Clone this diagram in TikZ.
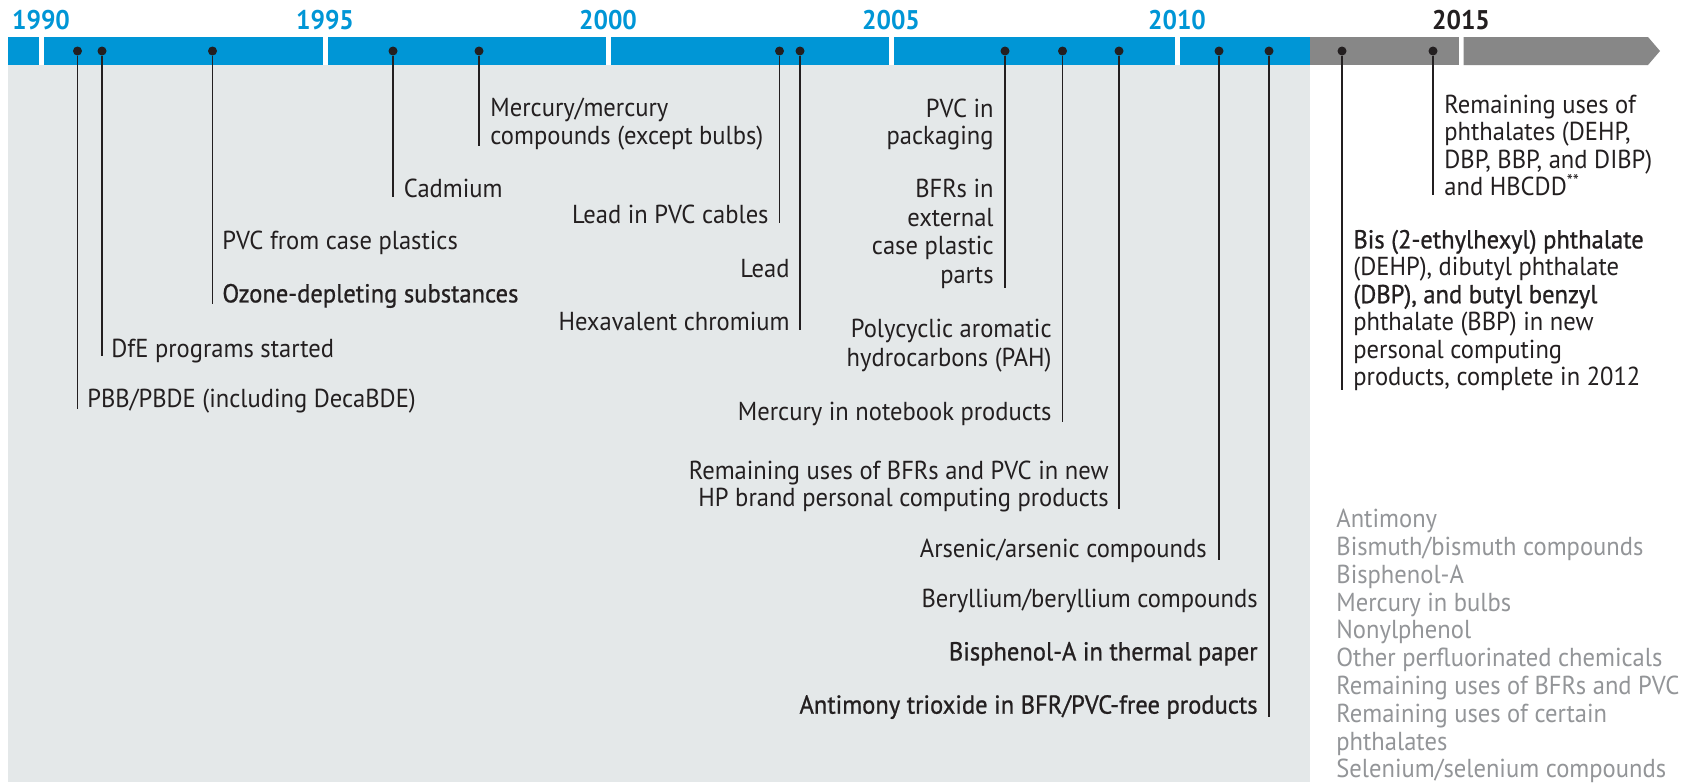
\documentclass[tikz,border=0pt]{standalone}
\usepackage{fontspec}
\setmainfont{PT Sans}[FakeStretch=0.945]
\newfontfamily\heavier{PT Sans}[FakeStretch=0.945, FakeBold=0.8]
\definecolor{hpblue}{HTML}{0096D6}
\definecolor{bargray}{HTML}{878787}
\definecolor{panel}{HTML}{E4E8E9}
\definecolor{ink}{HTML}{231F20}
\definecolor{soft}{HTML}{939598}
\newcommand{\topstr}{\rule{0pt}{9.625pt}}
\begin{document}
\begin{tikzpicture}[x=0.5pt,y=-0.5pt,
  lbl/.style={font=\fontsize{13}{13.75}\selectfont, text=ink, inner sep=0pt},
  lblL/.style={lbl, anchor=north west, align=left},
  lblR/.style={lbl, anchor=north east, align=right},
  yr/.style={font=\fontsize{13.5}{14}\selectfont\bfseries, text=hpblue, anchor=base, inner sep=0pt},
  dotn/.style={circle, fill=ink, inner sep=0pt, minimum size=4.5pt},
  stem/.style={draw=ink, line width=0.8pt}]
\useasboundingbox (0,0) rectangle (1684,782);
\fill[white] (0,0) rectangle (1684,782);
\fill[panel] (8,65) rectangle (1310,782);
% timeline bar
\fill[hpblue] (8,37) rectangle (38.5,65);
\fill[hpblue] (43.5,37) rectangle (322.5,65);
\fill[hpblue] (327.5,37) rectangle (605.5,65);
\fill[hpblue] (610.5,37) rectangle (888.5,65);
\fill[hpblue] (893.5,37) rectangle (1174.5,65);
\fill[hpblue] (1179.5,37) rectangle (1310,65);
\fill[bargray] (1310,37) rectangle (1458.5,65);
\fill[bargray] (1463.5,37) -- (1648,37) -- (1660,51) -- (1648,65) -- (1463.5,65) -- cycle;
% years
\node[yr] (y1990) at (41,29) {1990};
\node[yr] (y1995) at (325,29) {1995};
\node[yr] (y2000) at (608,29) {2000};
\node[yr] (y2005) at (891,29) {2005};
\node[yr] (y2010) at (1177,29) {2010};
\node[yr, text=ink] (y2015) at (1461,29) {2015};
% dots
\node[dotn] (d1) at (77.5,51) {};
\node[dotn] (d2) at (102,51) {};
\node[dotn] (d3) at (212.5,51) {};
\node[dotn] (d4) at (393,51) {};
\node[dotn] (d5) at (479,51) {};
\node[dotn] (d6) at (779.5,51) {};
\node[dotn] (d7) at (800,51) {};
\node[dotn] (d8) at (1005,51) {};
\node[dotn] (d9) at (1062.5,51) {};
\node[dotn] (d10) at (1119,51) {};
\node[dotn] (d11) at (1219,51) {};
\node[dotn] (d12) at (1269,51) {};
\node[dotn] (d13) at (1342,51) {};
\node[dotn] (d14) at (1433,51) {};
% stem ends
\coordinate (e1) at (77.5,409);
\coordinate (e2) at (102,356);
\coordinate (e3) at (212.5,304);
\coordinate (e4) at (393,197);
\coordinate (e5) at (479,145.7);
\coordinate (e6) at (779.5,223);
\coordinate (e7) at (800,330);
\coordinate (e8) at (1005,288);
\coordinate (e9) at (1062.5,422);
\coordinate (e10) at (1119,509);
\coordinate (e11) at (1219,560);
\coordinate (e12) at (1269,716.7);
\coordinate (e13) at (1342,390);
\coordinate (e14) at (1433,195);
\foreach \i in {1,...,14} {\draw[stem] (d\i) -- (e\i);}
% labels
\node[lblL] (t1) at (87,387.75) {\topstr PBB/PBDE (including DecaBDE)};
\node[lblL] (t2) at (111,337.75) {\topstr DfE programs started};
\node[lblL] (t3a) at (222,229.75) {\topstr PVC from case plastics};
\node[lblL] (t3b) at (222,282.75) {\topstr {\heavier Ozone-depleting substances}};
\node[lblL] (t4) at (403.5,177.75) {\topstr Cadmium};
\node[lblL] (t5) at (490,97.25) {\topstr Mercury/mercury\\compounds (except bulbs)};
\node[lblR] (t6) at (769,203.75) {\topstr Lead in PVC cables};
\node[lblR] (t7a) at (790,257.75) {\topstr Lead};
\node[lblR] (t7b) at (790,310.75) {\topstr Hexavalent chromium};
\node[lblR] (t8a) at (994,97.75) {\topstr PVC in\\packaging};
\node[lblR, font=\fontsize{13}{14.3}\selectfont] (t8b) at (994,177.75) {\topstr BFRs in\\external\\case plastic\\parts};
\node[lblR, font=\fontsize{13}{14.75}\selectfont] (t9a) at (1052,317.75) {\topstr Polycyclic aromatic\\hydrocarbons (PAH)};
\node[lblR] (t9b) at (1052,400.75) {\topstr Mercury in notebook products};
\node[lblR] (t10) at (1109,459.75) {\topstr Remaining uses of BFRs and PVC in new\\HP brand personal computing products};
\node[lblR] (t11) at (1207,537.5) {\topstr Arsenic/arsenic compounds};
\node[lblR] (t12a) at (1258,587.5) {\topstr Beryllium/beryllium compounds};
\node[lblR] (t12b) at (1258,640.75) {\topstr {\heavier Bisphenol-A in thermal paper}};
\node[lblR] (t12c) at (1258,694) {\topstr {\heavier Antimony trioxide in BFR/PVC-free products}};
\node[lblL, font=\fontsize{13}{13.7}\selectfont] (t13) at (1353,228.75) {\topstr {\heavier Bis (2-ethylhexyl) phthalate}\\(DEHP), dibutyl phthalate\\{\heavier (DBP), and butyl benzyl}\\phthalate (BBP) in new\\personal computing\\products, complete in 2012};
\node[lblL] (t14) at (1444,93.75) {\topstr Remaining uses of\\phthalates (DEHP,\\DBP, BBP, and DIBP)\\and HBCDD\textsuperscript{**}};
\node[lblL, text=soft, font=\fontsize{13}{13.9}\selectfont] (t15) at (1336,508) {\topstr Antimony\\Bismuth/bismuth compounds\\Bisphenol-A\\Mercury in bulbs\\Nonylphenol\\Other perfluorinated chemicals\\Remaining uses of BFRs and PVC\\Remaining uses of certain\\phthalates\\Selenium/selenium compounds};
\end{tikzpicture}
\end{document}
